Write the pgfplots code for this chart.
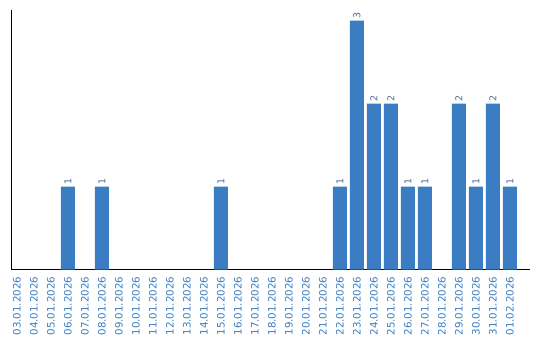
\documentclass[border=0pt]{standalone}
\usepackage{fontspec}
\setmainfont{DejaVu Sans}
\usepackage{pgfplots}
\pgfplotsset{compat=1.18}
\definecolor{barblue}{HTML}{3A7DC2}
\definecolor{lblblue}{HTML}{3A7DC2}
\definecolor{vallbl}{HTML}{4A6E96}
\begin{document}
\begin{tikzpicture}[x=1bp,y=1bp]
\useasboundingbox (0,0) rectangle (540,340);
\begin{axis}[
  at={(11bp,70.5bp)}, anchor=south west,
  scale only axis,
  width=519bp, height=259.5bp,
  xmin=-0.353, xmax=30.18,
  ymin=0, ymax=3.127,
  axis x line*=bottom, axis y line*=left,
  axis line style={black, line width=0.9pt, -},
  ytick=\empty,
  xtick={0,...,29},
  xticklabels={03.01.2026,04.01.2026,05.01.2026,06.01.2026,07.01.2026,08.01.2026,09.01.2026,10.01.2026,11.01.2026,12.01.2026,13.01.2026,14.01.2026,15.01.2026,16.01.2026,17.01.2026,18.01.2026,19.01.2026,20.01.2026,21.01.2026,22.01.2026,23.01.2026,24.01.2026,25.01.2026,26.01.2026,27.01.2026,28.01.2026,29.01.2026,30.01.2026,31.01.2026,01.02.2026},
  major tick length=0pt,
  xticklabel style={rotate=90, anchor=east, font=\fontsize{10.3}{12}\selectfont, text=lblblue, inner sep=0pt},
  xticklabel shift=7bp,
  ybar, bar width=14bp,
  /pgf/number format/assume math mode=true,
  nodes near coords={\fontsize{9.5}{11}\selectfont\pgfmathprintnumber{\pgfplotspointmeta}},
  nodes near coords style={rotate=90, anchor=west, text=vallbl, inner sep=1.5pt},
  clip=false,
]
\addplot[fill=barblue, draw=none] coordinates {
 (3,1) (5,1) (12,1) (19,1) (20,3) (21,2) (22,2) (23,1) (24,1) (26,2) (27,1) (28,2) (29,1)
};
\end{axis}
\end{tikzpicture}
\end{document}
